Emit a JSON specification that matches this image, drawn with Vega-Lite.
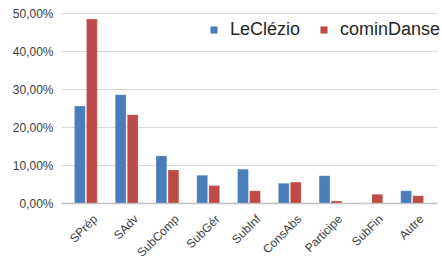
{
  "$schema": "https://vega.github.io/schema/vega-lite/v6.json",
  "width": 376,
  "height": 190,
  "padding": {"left": 12, "top": 7, "right": 0, "bottom": 0},
  "background": "white",
  "config": {"view": {"stroke": null}, "font": "Liberation Sans"},
  "data": {"values": [
    {"cat": "SPrép", "serie": "LeClézio", "v": 0.255},
    {"cat": "SPrép", "serie": "cominDanse", "v": 0.484},
    {"cat": "SAdv", "serie": "LeClézio", "v": 0.285},
    {"cat": "SAdv", "serie": "cominDanse", "v": 0.232},
    {"cat": "SubComp", "serie": "LeClézio", "v": 0.124},
    {"cat": "SubComp", "serie": "cominDanse", "v": 0.087},
    {"cat": "SubGér", "serie": "LeClézio", "v": 0.073},
    {"cat": "SubGér", "serie": "cominDanse", "v": 0.046},
    {"cat": "SubInf", "serie": "LeClézio", "v": 0.089},
    {"cat": "SubInf", "serie": "cominDanse", "v": 0.032},
    {"cat": "ConsAbs", "serie": "LeClézio", "v": 0.052},
    {"cat": "ConsAbs", "serie": "cominDanse", "v": 0.055},
    {"cat": "Participe", "serie": "LeClézio", "v": 0.072},
    {"cat": "Participe", "serie": "cominDanse", "v": 0.005},
    {"cat": "SubFin", "serie": "LeClézio", "v": 0.0},
    {"cat": "SubFin", "serie": "cominDanse", "v": 0.023},
    {"cat": "Autre", "serie": "LeClézio", "v": 0.032},
    {"cat": "Autre", "serie": "cominDanse", "v": 0.019}
  ]},
  "mark": {"type": "bar", "stroke": "white", "strokeOpacity": 0.4, "strokeWidth": 0.5},
  "encoding": {
    "x": {
      "field": "cat", "type": "nominal", "sort": null,
      "scale": {"paddingInner": 0.44, "paddingOuter": 0.33},
      "axis": {
        "title": null, "labelAngle": -45, "labelFontSize": 12, "labelColor": "#404040",
        "ticks": false, "domainColor": "#bfbfbf", "domainWidth": 1.5, "labelPadding": 10, "labelOffset": 6
      }
    },
    "xOffset": {"field": "serie", "type": "nominal", "sort": ["LeClézio", "cominDanse"], "scale": {"paddingInner": 0.1}},
    "y": {
      "field": "v", "type": "quantitative",
      "scale": {"domain": [0, 0.5]},
      "axis": {
        "title": null, "values": [0, 0.1, 0.2, 0.3, 0.4, 0.5],
        "labelExpr": "replace(format(datum.value, '.2%'), '.', ',')",
        "labelFontSize": 12, "labelColor": "#404040", "labelPadding": 8,
        "ticks": false, "domain": false, "gridColor": "#d9d9d9", "gridWidth": 1
      }
    },
    "color": {
      "field": "serie", "type": "nominal",
      "sort": ["LeClézio", "cominDanse"],
      "scale": {"domain": ["LeClézio", "cominDanse"], "range": ["#4a7ebb", "#be4b48"]},
      "legend": {
        "title": null, "orient": "none", "direction": "horizontal",
        "legendX": 144, "legendY": 8,
        "symbolType": "square", "symbolSize": 50, "symbolStrokeWidth": 0,
        "labelFontSize": 18, "labelColor": "#262626", "columnPadding": 14, "labelOffset": 7
      }
    }
  }
}
